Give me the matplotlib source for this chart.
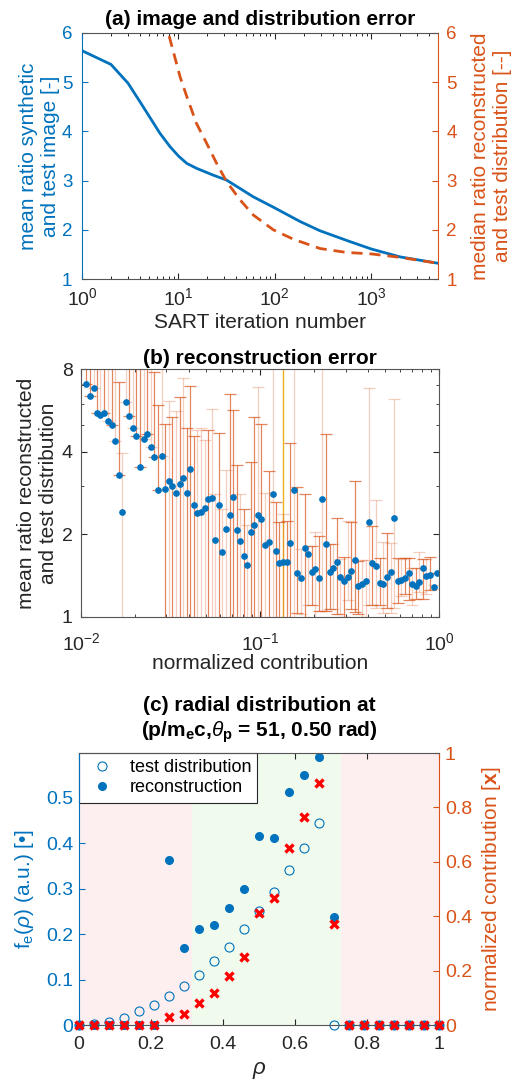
import numpy as np
import matplotlib
matplotlib.use("Agg")
import matplotlib.pyplot as plt
from matplotlib.ticker import FixedLocator, NullFormatter, LogLocator, FuncFormatter

plt.rcParams['font.family'] = ['Liberation Sans', 'DejaVu Sans']
plt.rcParams['mathtext.fontset'] = 'custom'
plt.rcParams['mathtext.rm'] = 'Liberation Sans'
plt.rcParams['mathtext.it'] = 'Liberation Sans:italic'
plt.rcParams['mathtext.bf'] = 'Liberation Sans:bold'
plt.rcParams['xtick.direction'] = 'in'
plt.rcParams['ytick.direction'] = 'in'

BLUE = '#0072BD'
ORANGE = '#D95319'
YELLOW = '#EDB120'
GRAY = '#262626'
AXG = '#555555'

# ---------------- panel (a) data ----------------
iter_img = [1, 2.0, 3.0, 4.0, 5.0, 6.44, 8.18, 10.0, 12.2, 15.4, 23.0, 31.6, 43.5, 59.8,
            96.4, 182, 294, 601, 1000, 1984, 4920]
ratio_img = [5.64, 5.36, 4.98, 4.60, 4.30, 3.96, 3.69, 3.50, 3.35, 3.25, 3.11, 3.01, 2.84, 2.67,
             2.46, 2.17, 1.98, 1.76, 1.61, 1.45, 1.32]
iter_dist = [7.5, 7.86, 10.4, 12.2, 15.4, 19.6, 24.9, 31.6, 43.5, 59.8, 96.4, 155, 294, 552,
             1000, 1984, 4920]
ratio_dist = [6.3, 6.0, 5.11, 4.71, 4.16, 3.76, 3.35, 2.98, 2.61, 2.30, 2.00, 1.81, 1.62, 1.54,
              1.51, 1.44, 1.32]

# ---------------- panel (b) data ----------------
contrib = [0.01071, 0.01118, 0.01177, 0.01228, 0.01282, 0.01349, 0.01408, 0.01483, 0.01547, 0.01622,
           0.01700, 0.01774, 0.01860, 0.01942, 0.02035, 0.02133, 0.02236, 0.02343, 0.02456, 0.02564,
           0.02676, 0.02817, 0.02928, 0.03083, 0.03218, 0.03387, 0.03549, 0.03705, 0.03883, 0.04071,
           0.04249, 0.04454, 0.04649, 0.04894, 0.05129, 0.05354, 0.05612, 0.05857, 0.06140, 0.06435,
           0.06745, 0.07069, 0.07379, 0.07735, 0.08108, 0.08463, 0.08872, 0.09299, 0.09706, 0.1017,
           0.1066, 0.1118, 0.1172, 0.1228, 0.1282, 0.1344, 0.1408, 0.1470, 0.1541, 0.1615,
           0.1693, 0.1775, 0.1852, 0.1942, 0.2035, 0.2133, 0.2226, 0.2333, 0.2446, 0.2564,
           0.2676, 0.2805, 0.2940, 0.3082, 0.3217, 0.3372, 0.3535, 0.3690, 0.3883, 0.4036,
           0.4230, 0.4435, 0.4648, 0.4872, 0.5086, 0.5354, 0.5612, 0.5857, 0.6140, 0.6435,
           0.6745, 0.7040, 0.7379, 0.7735, 0.8074, 0.8463, 0.8872, 0.9299, 0.9746]
mean_ratio = [7.05, 6.38, 6.82, 5.53, 5.44, 5.53, 5.20, 5.00, 4.36, 3.30,
              2.41, 6.08, 5.42, 4.87, 4.58, 3.53, 4.47, 4.63, 4.17, 3.83,
              2.89, 3.87, 2.93, 3.13, 3.01, 2.83, 3.06, 3.20, 2.83, 3.47,
              2.56, 2.39, 2.42, 2.50, 2.70, 2.71, 1.90, 2.55, 1.72, 2.09,
              2.36, 2.74, 2.07, 1.89, 1.67, 1.55, 2.03, 2.16, 2.36, 2.28,
              1.83, 1.87, 2.81, 1.74, 1.57, 1.59, 1.59, 1.86, 2.89, 1.44,
              1.38, 1.78, 1.69, 1.46, 1.49, 1.38, 2.69, 1.84, 1.46, 1.51,
              1.59, 1.40, 1.35, 1.40, 1.47, 1.61, 1.29, 1.32, 1.35, 2.22,
              1.57, 1.53, 1.33, 1.32, 1.40, 1.46, 2.29, 1.35, 1.36, 1.38,
              1.44, 1.32, 1.29, 1.34, 1.50, 1.41, 1.42, 1.28, 1.44]
upper_ratio = [12, 12, 12, 12, 12, 12, 12, 12, 12, 7.17,
               3.97, 12, 12, 12, 12, 12, 12, 12, 12, 7.83,
               5.93, 12, 5.05, 6.13, 5.35, 5.64, 6.32, 7.46, 4.89, 6.94,
               4.56, 4.79, 4.90, 4.43, 4.79, 5.73, 2.81, 4.67, 2.47, 3.42,
               6.52, 5.67, 3.59, 2.81, 2.48, 2.17, 3.67, 5.35, 6.90, 5.05,
               2.84, 3.39, 12, 2.62, 2.21, 2.38, 2.24, 4.29, 12, 2.97,
               1.76, 2.81, 1.81, 1.81, 2.04, 1.97, 12, 4.65, 1.85, 1.85,
               2.29, 1.63, 1.65, 2.23, 2.22, 3.13, 1.60, 1.61, 1.61, 6.86,
               2.14, 2.67, 1.64, 1.87, 2.02, 1.86, 6.25, 1.64, 1.63, 1.64,
               1.64, 1.50, 1.50, 1.72, 1.63, 1.63, 1.65, 1.30, 1.44]
lower_ratio = [7.05, 6.38, 6.82, 5.53, 5.44, 5.53, 5.20, 5.00, 4.36, 3.30,
               0.5, 6.08, 5.42, 4.87, 4.58, 3.53, 4.47, 4.63, 4.17, 3.83,
               2.89, 3.87, 0.5, 0.5, 0.5, 0.5, 0.5, 0.5, 0.5, 0.5,
               0.5, 0.5, 0.5, 0.5, 0.5, 0.5, 0.5, 0.5, 0.5, 0.5,
               0.5, 0.5, 0.5, 0.5, 0.5, 0.5, 0.5, 0.5, 0.5, 0.5,
               0.5, 0.5, 0.5, 0.5, 0.5, 0.5, 0.5, 0.5, 0.5, 1.03,
               1.02, 0.5, 1.10, 1.10, 0.5, 1.05, 1.05, 1.05, 1.07, 1.07,
               1.02, 1.02, 1.00, 1.15, 1.07, 1.04, 1.02, 1.00, 0.98, 1.10,
               1.10, 1.08, 1.10, 1.03, 1.08, 1.03, 1.08, 1.12, 1.19, 1.21,
               1.15, 1.10, 1.16, 1.23, 1.16, 1.21, 1.25, 1.26, 1.44]
bar_dark = [1, 1, 0, 1, 0, 1, 0, 1, 0, 1,
            0, 0, 1, 0, 1, 1, 0, 1, 0, 1,
            1, 0, 1, 0, 1, 0, 1, 0, 1, 1,
            1, 0, 0, 0, 1, 0, 0, 1, 0, 0,
            1, 1, 1, 0, 1, 0, 1, 1, 0, 1,
            0, 1, 0, 1, 1, 0, 1, 1, 0, 1,
            0, 1, 0, 1, 0, 1, 0, 1, 1, 0,
            1, 0, 1, 0, 1, 1, 1, 0, 0, 0,
            1, 0, 1, 0, 1, 0, 0, 1, 0, 1,
            1, 0, 1, 0, 1, 0, 1, 0, 1]
threshold_contrib = 0.134

# ---------------- panel (c) data ----------------
rho = [0, 0.0417, 0.0833, 0.125, 0.1667, 0.2083, 0.25, 0.2917, 0.3333, 0.375, 0.4167, 0.4583,
       0.5, 0.5417, 0.5833, 0.625, 0.6667, 0.7083, 0.75, 0.7917, 0.8333, 0.875, 0.9167, 0.9583, 1.0]
f_test = [0, 0.002, 0.007, 0.015, 0.03, 0.045, 0.063, 0.085, 0.11, 0.14, 0.172, 0.21,
          0.25, 0.293, 0.34, 0.39, 0.445, 0.001, 0, 0, 0, 0, 0, 0, 0]
f_rec = [0, 0, 0, 0, 0, 0, 0.363, 0.17, 0.21, 0.22, 0.258, 0.30,
         0.416, 0.412, 0.512, 0.55, 0.59, 0.237, 0, 0, 0, 0, 0, 0, 0]
norm_contrib = [0, 0, 0, 0, 0, 0, 0.031, 0.040, 0.080, 0.116, 0.179, 0.25,
                0.41, 0.467, 0.651, 0.765, 0.891, 0.373, 0, 0, 0, 0, 0, 0, 0]
good_region = [0.3125, 0.726]

TK = 13.5   # tick labels
LB = 15     # axis labels
TT = 15     # titles
fig = plt.figure(figsize=(5.15, 10.81), dpi=100)


def pow10(v, pos):
    e = int(round(np.log10(v)))
    return r'$\mathregular{10^{%d}}$' % e


def plain(v, pos):
    return '%g' % v


# ===== (a) =====
axa = fig.add_axes([0.1592, 0.7419, 0.6913, 0.2276])
axa.plot(iter_img, ratio_img, color=BLUE, lw=2)
axa.set_xscale('log')
axa.set_xlim(1, 4920)
axa.set_ylim(1, 6)
axa.set_yticks([1, 2, 3, 4, 5, 6])
axa.xaxis.set_major_locator(FixedLocator([1, 10, 100, 1000]))
axa.xaxis.set_major_formatter(FuncFormatter(pow10))
axa.xaxis.set_minor_locator(LogLocator(base=10, subs=np.arange(2, 10), numticks=20))
axa.xaxis.set_minor_formatter(NullFormatter())
axa.tick_params(axis='y', colors=BLUE, labelsize=TK, length=4, pad=7)
axa.tick_params(axis='x', colors=GRAY, labelsize=TK + 0.5, top=True, length=4, pad=6)
axa.tick_params(axis='x', which='minor', top=True, length=2)
axa.set_xlabel('SART iteration number', fontsize=LB, color=GRAY, labelpad=3)
axa.set_ylabel('mean ratio synthetic\nand test image [-]', color=BLUE, fontsize=LB, labelpad=1,
               linespacing=1.2)
axa.set_title('(a) image and distribution error', fontsize=TT, fontweight='bold', pad=6)
axa2 = axa.twinx()
axa2.plot(iter_dist, ratio_dist, color=ORANGE, lw=2, ls=(0, (4, 2.5)))
axa2.set_ylim(1, 6)
axa2.set_yticks([1, 2, 3, 4, 5, 6])
axa2.tick_params(axis='y', colors=ORANGE, labelsize=TK, length=4, pad=6)
axa2.set_ylabel('median ratio reconstructed\nand test distribution [--]', color=ORANGE,
                fontsize=LB, labelpad=10, linespacing=1.2)
axa2.spines['left'].set_color(BLUE)
axa2.spines['right'].set_color(ORANGE)
axa2.spines['top'].set_color(AXG)
axa2.spines['bottom'].set_color(AXG)
for s in axa.spines.values():
    s.set_visible(False)

# ===== (b) =====
axb = fig.add_axes([0.1573, 0.4295, 0.6957, 0.2289])
axb.axvline(threshold_contrib, color=YELLOW, lw=1)
cx = np.array(contrib)
my = np.array(mean_ratio)
up = np.array(upper_ratio)
lo = np.array(lower_ratio)
dk = np.array(bar_dark).astype(bool)
for mask, alpha in [(~dk, 0.28), (dk, 0.7)]:
    axb.errorbar(cx[mask], my[mask], yerr=[my[mask] - lo[mask], up[mask] - my[mask]],
                 fmt='none', ecolor=ORANGE, elinewidth=0.9, capsize=4.5, capthick=0.9, alpha=alpha)
axb.plot(cx, my, 'o', color=BLUE, ms=3.8, mec=BLUE)
axb.set_xscale('log')
axb.set_yscale('log', base=2)
axb.set_xlim(0.01, 1)
axb.set_ylim(1, 8)
axb.yaxis.set_major_locator(FixedLocator([1, 2, 4, 8]))
axb.yaxis.set_major_formatter(FuncFormatter(plain))
axb.yaxis.set_minor_locator(FixedLocator([3, 5, 6, 7]))
axb.yaxis.set_minor_formatter(NullFormatter())
axb.xaxis.set_major_locator(FixedLocator([0.01, 0.1, 1]))
axb.xaxis.set_major_formatter(FuncFormatter(pow10))
axb.xaxis.set_minor_locator(LogLocator(base=10, subs=np.arange(2, 10), numticks=20))
axb.xaxis.set_minor_formatter(NullFormatter())
axb.tick_params(axis='both', which='both', colors=GRAY, labelsize=TK + 0.5, top=True, right=True)
axb.tick_params(axis='x', which='major', length=4, pad=11)
axb.tick_params(axis='y', which='major', length=4, pad=6)
axb.tick_params(which='minor', length=2)
for s in axb.spines.values():
    s.set_color(AXG)
axb.set_xlabel('normalized contribution', fontsize=LB, color=GRAY, labelpad=0)
axb.set_ylabel('mean ratio reconstructed\nand test distribution', fontsize=LB, color=GRAY, labelpad=3,
               linespacing=1.2)
axb.set_title('(b) reconstruction error', fontsize=TT, fontweight='bold', pad=4)

# ===== (c) =====
axc = fig.add_axes([0.1534, 0.0518, 0.6996, 0.2516])
axc.axvspan(0, good_region[0], color='#FDEFEF', lw=0, zorder=0)
axc.axvspan(good_region[0], good_region[1], color='#F0FBEE', lw=0, zorder=0)
axc.axvspan(good_region[1], 1, color='#FDEFEF', lw=0, zorder=0)
l1, = axc.plot(rho, f_test, 'o', mfc='none', mec=BLUE, ms=6.5, mew=0.8, label='test distribution',
               zorder=3, clip_on=False)
l2, = axc.plot(rho, f_rec, 'o', color=BLUE, ms=5.5, label='reconstruction', zorder=3, clip_on=False)
axc.set_xlim(0, 1)
axc.set_ylim(0, 0.598)
axc.set_yticks([0, 0.1, 0.2, 0.3, 0.4, 0.5])
axc.yaxis.set_major_formatter(FuncFormatter(plain))
axc.set_xticks([0, 0.2, 0.4, 0.6, 0.8, 1])
axc.xaxis.set_major_formatter(FuncFormatter(plain))
axc.tick_params(axis='y', colors=BLUE, labelsize=TK + 0.5, length=4, pad=4)
axc.tick_params(axis='x', colors=GRAY, labelsize=TK + 0.5, top=True, length=4, pad=8)
axc.set_xlabel(r'$\rho$', fontsize=LB + 1, color=GRAY, labelpad=5)
axc.set_ylabel(r'f$_\mathregular{e}$($\rho$) (a.u.) [•]', color=BLUE, fontsize=LB, labelpad=7)
axc.set_title('(c) radial distribution at\n' + r'(p/m$_\mathbf{e}$c,$\theta_\mathbf{p}$ = 51, 0.50 rad)',
              fontsize=TT, fontweight='bold', pad=12, linespacing=1.25)
leg = axc.legend(handles=[l1, l2], loc='upper left', fontsize=13, frameon=True, fancybox=False,
                 edgecolor=GRAY, framealpha=1, borderaxespad=0, handletextpad=0.55,
                 borderpad=0.35, labelspacing=0.17, handlelength=1.9)
leg.get_frame().set_linewidth(0.8)
axc2 = axc.twinx()
axc2.plot(rho, norm_contrib, 'x', color='#FF0000', ms=5.8, mew=2.4, zorder=4, clip_on=False)
axc2.set_ylim(0, 1)
axc2.set_yticks([0, 0.2, 0.4, 0.6, 0.8, 1])
axc2.yaxis.set_major_formatter(FuncFormatter(plain))
axc2.tick_params(axis='y', colors=ORANGE, labelsize=TK + 0.5, length=4, pad=4)
axc2.set_ylabel(r'normalized contribution [$\mathbf{x}$]', color=ORANGE, fontsize=LB, labelpad=6)
axc2.spines['left'].set_color(BLUE)
axc2.spines['right'].set_color(ORANGE)
axc2.spines['top'].set_color(AXG)
axc2.spines['bottom'].set_color(AXG)
for s in axc.spines.values():
    s.set_visible(False)

fig.savefig('out.png', dpi=100)
